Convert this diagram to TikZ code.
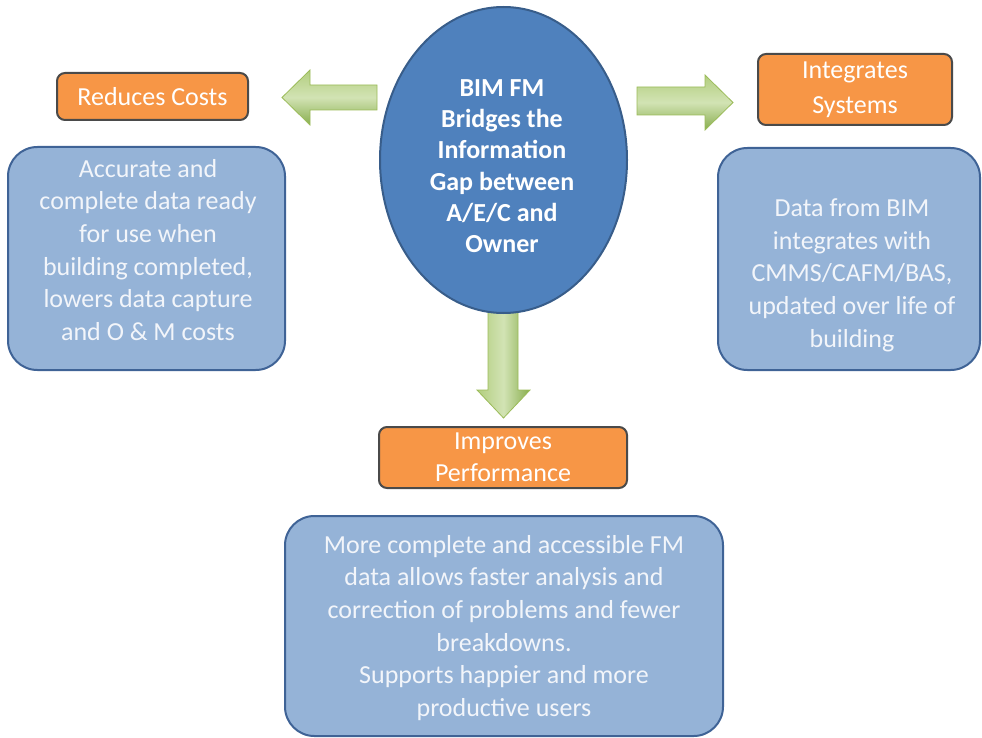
\documentclass[tikz,border=0pt]{standalone}
\usepackage{fontspec}
\setmainfont{Carlito}
\usetikzlibrary{shapes.geometric}
\definecolor{orangefill}{HTML}{F79646}
\definecolor{boxgray}{HTML}{4A4A4A}
\definecolor{bluefill}{HTML}{95B3D7}
\definecolor{blueborder}{HTML}{3F6396}
\definecolor{bluetext}{HTML}{F2F5FA}
\definecolor{hubfill}{HTML}{4F81BD}
\definecolor{hubborder}{HTML}{385D8A}
\definecolor{arrowlight}{HTML}{D2E3B4}
\definecolor{arrowmid}{HTML}{B2CE7E}
\definecolor{arrowdark}{HTML}{88AE4E}
\definecolor{arrowedge}{HTML}{9BBB59}
\begin{document}
\begin{tikzpicture}[x=0.75pt,y=-0.75pt,
  sz/.style 2 args={minimum width=#1*0.75pt, minimum height=#2*0.75pt},
  orangebox/.style={draw=boxgray, line width=1.5pt, fill=orangefill, rounded corners=6pt,
    text=white, align=center, font=\fontsize{19.5}{24}\selectfont, inner sep=0pt},
  bluebox/.style={draw=blueborder, line width=1.5pt, fill=bluefill, rounded corners=22pt, inner sep=0pt},
  bodytext/.style={text=bluetext, align=center, font=\fontsize{19.5}{24.5}\selectfont, inner sep=0pt},
  hubstyle/.style={ellipse, draw=hubborder, line width=1.5pt, fill=hubfill, inner sep=0pt},
  hubtext/.style={text=white, align=center, font=\bfseries\fontsize{19.5}{23.5}\selectfont, inner sep=0pt},
  harrow/.style={draw=arrowedge, line width=0.6pt, top color=arrowmid, bottom color=arrowdark, middle color=arrowlight},
  varrow/.style={draw=arrowedge, line width=0.6pt, left color=arrowmid, right color=arrowdark, middle color=arrowlight}
]
\useasboundingbox (0,0) rectangle (982,738);

% green block arrows (behind the ellipse)
\path[harrow] (282,97.5) -- (310,70) -- (310,85) -- (377,85) -- (377,110) -- (310,110) -- (310,125) -- cycle;
\path[harrow] (733,102.5) -- (705,75) -- (705,87) -- (637,87) -- (637,115) -- (705,115) -- (705,130) -- cycle;
\path[varrow] (503.5,418) -- (477,390) -- (488,390) -- (488,305) -- (518,305) -- (518,390) -- (530,390) -- cycle;

% central ellipse
\node[hubstyle, sz={247}{306}] (hub) at (503.5,160) {};
\node[hubtext] (hubtxt) at (502,166) {BIM FM\\Bridges the\\Information\\Gap between\\A/E/C and\\Owner};

% orange headers
\node[orangebox, sz={191}{47}] (reduces) at (152.5,96.5) {Reduces Costs};
\node[orangebox, sz={194}{71}] (integrates) at (855,89.5) {Integrates\\[2pt]Systems};
\node[orangebox, sz={248}{61}] (improves) at (503,457.5) {Improves\\Performance};

% blue boxes
\node[bluebox, sz={277}{223}] (lbox) at (146.5,258.5) {};
\node[bodytext] (ltext) at (148,250) {Accurate and\\complete data ready\\for use when\\building completed,\\lowers data capture\\and O \& M costs};

\node[bluebox, sz={262}{222}] (rbox) at (849,259) {};
\node[bodytext] (rtext) at (852,275) {Data from BIM\\integrates with\\CMMS/CAFM/BAS,\\updated over life of\\building};

\node[bluebox, sz={438}{220}] (bbox) at (504,626) {};
\node[bodytext] (btext) at (504,628) {More complete and accessible FM\\data allows faster analysis and\\correction of problems and fewer\\breakdowns.\\Supports happier and more\\productive users};
\end{tikzpicture}
\end{document}
